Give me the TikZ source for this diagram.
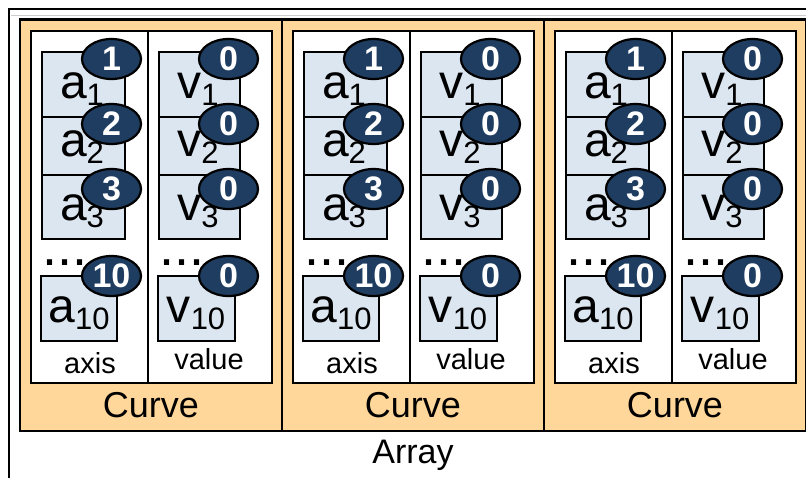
\documentclass[tikz,border=0pt]{standalone}
\usepackage{fontspec}
\setmainfont{Liberation Sans}
\usetikzlibrary{shapes.geometric}
\definecolor{curvefill}{RGB}{255,215,154}
\definecolor{cellfill}{RGB}{220,230,241}
\definecolor{badgefill}{RGB}{31,61,96}
\tikzset{
  arraybox/.style={draw=black, line width=2.5pt},
  curvebox/.style={draw=black, line width=2.5pt, fill=curvefill},
  innerbox/.style={draw=black, line width=2pt, fill=white},
  divider/.style={draw=black, line width=2pt},
  cellbox/.style={rectangle, draw=black, line width=2pt, fill=cellfill, inner sep=0pt, minimum width=#1},
  celltext/.style={anchor=base, inner sep=0pt, font=\fontsize{48}{50}\selectfont},
  badgenode/.style={ellipse, draw=black, line width=2.2pt, fill=badgefill, minimum width=59pt, minimum height=40pt, inner sep=0pt, text=white, font=\fontsize{34}{34}\selectfont\bfseries},
  dotstext/.style={anchor=base west, inner sep=0pt, font=\fontsize{54}{54}\selectfont},
  collabel/.style={anchor=base, inner sep=0pt, font=\fontsize{29}{30}\selectfont},
  curvelabel/.style={anchor=base, inner sep=0pt, font=\fontsize{36}{38}\selectfont},
  arraylabel/.style={anchor=base, inner sep=0pt, font=\fontsize{34}{36}\selectfont},
}
\newcommand{\sbs}[1]{\raisebox{-7pt}{\fontsize{31}{31}\selectfont #1}}
\begin{document}
\begin{tikzpicture}[x=1pt,y=-1pt]
\useasboundingbox (0,0) rectangle (806,477);
\clip (0,0) rectangle (806,477);
\fill[white] (0,0) rectangle (806,477);
% Array frame
\draw[arraybox] (9,500) -- (9,9) -- (830,9);
\draw[gray!40, line width=1pt] (11,15.5) -- (806,15.5);
\node[arraylabel] (arraylbl) at (413,463) {Array};
\foreach \i [evaluate=\i as \ox using {20+(\i-1)*262}] in {1,2,3} {
  \draw[curvebox] (\ox,19.5) rectangle (\ox+262,431);
  \draw[innerbox] (\ox+11,30.5) rectangle (\ox+251.5,383);
  \draw[divider] (\ox+128,30.5) -- (\ox+128,383);
  % axis cells
  \node[cellbox=83pt, minimum height=65pt] (a1-\i) at (\ox+63,84.5) {};
  \node[cellbox=83pt, minimum height=58pt] (a2-\i) at (\ox+63,146) {};
  \node[cellbox=83pt, minimum height=63.5pt] (a3-\i) at (\ox+63,206.75) {};
  \node[cellbox=76pt, minimum height=64.5pt] (a10-\i) at (\ox+59,308.25) {};
  % value cells
  \node[cellbox=81pt, minimum height=65pt] (v1-\i) at (\ox+179,84.5) {};
  \node[cellbox=81pt, minimum height=58pt] (v2-\i) at (\ox+179,146) {};
  \node[cellbox=81pt, minimum height=63.5pt] (v3-\i) at (\ox+179,206.75) {};
  \node[cellbox=77pt, minimum height=64.5pt] (v10-\i) at (\ox+176,308.25) {};
  % cell texts
  \node[celltext] (ta1-\i) at (\ox+62,98.5) {a\sbs{1}};
  \node[celltext] (ta2-\i) at (\ox+62,156.5) {a\sbs{2}};
  \node[celltext] (ta3-\i) at (\ox+62,220) {a\sbs{3}};
  \node[celltext] (ta10-\i) at (\ox+59,322) {a\sbs{10}};
  \node[celltext] (tv1-\i) at (\ox+178,98.5) {v\sbs{1}};
  \node[celltext] (tv2-\i) at (\ox+178,156.5) {v\sbs{2}};
  \node[celltext] (tv3-\i) at (\ox+178,220) {v\sbs{3}};
  \node[celltext] (tv10-\i) at (\ox+176,322) {v\sbs{10}};
  % dots
  \node[dotstext] (da-\i) at (\ox+22.5,265) {...};
  \node[dotstext] (dv-\i) at (\ox+139.5,265) {...};
  % badges
  \node[badgenode] (ba1-\i) at (\ox+91.5,59) {1};
  \node[badgenode] (ba2-\i) at (\ox+91.5,124) {2};
  \node[badgenode] (ba3-\i) at (\ox+91.5,189) {3};
  \node[badgenode] (ba10-\i) at (\ox+91.5,276) {10};
  \node[badgenode] (bv1-\i) at (\ox+208.5,59) {0};
  \node[badgenode] (bv2-\i) at (\ox+208.5,124) {0};
  \node[badgenode] (bv3-\i) at (\ox+208.5,189) {0};
  \node[badgenode] (bv10-\i) at (\ox+208.5,276) {0};
  % labels
  \node[collabel] (axis-\i) at (\ox+70,373) {axis};
  \node[collabel] (value-\i) at (\ox+189,369) {value};
  \node[curvelabel] (curve-\i) at (\ox+131,417) {Curve};
}
\end{tikzpicture}
\end{document}
